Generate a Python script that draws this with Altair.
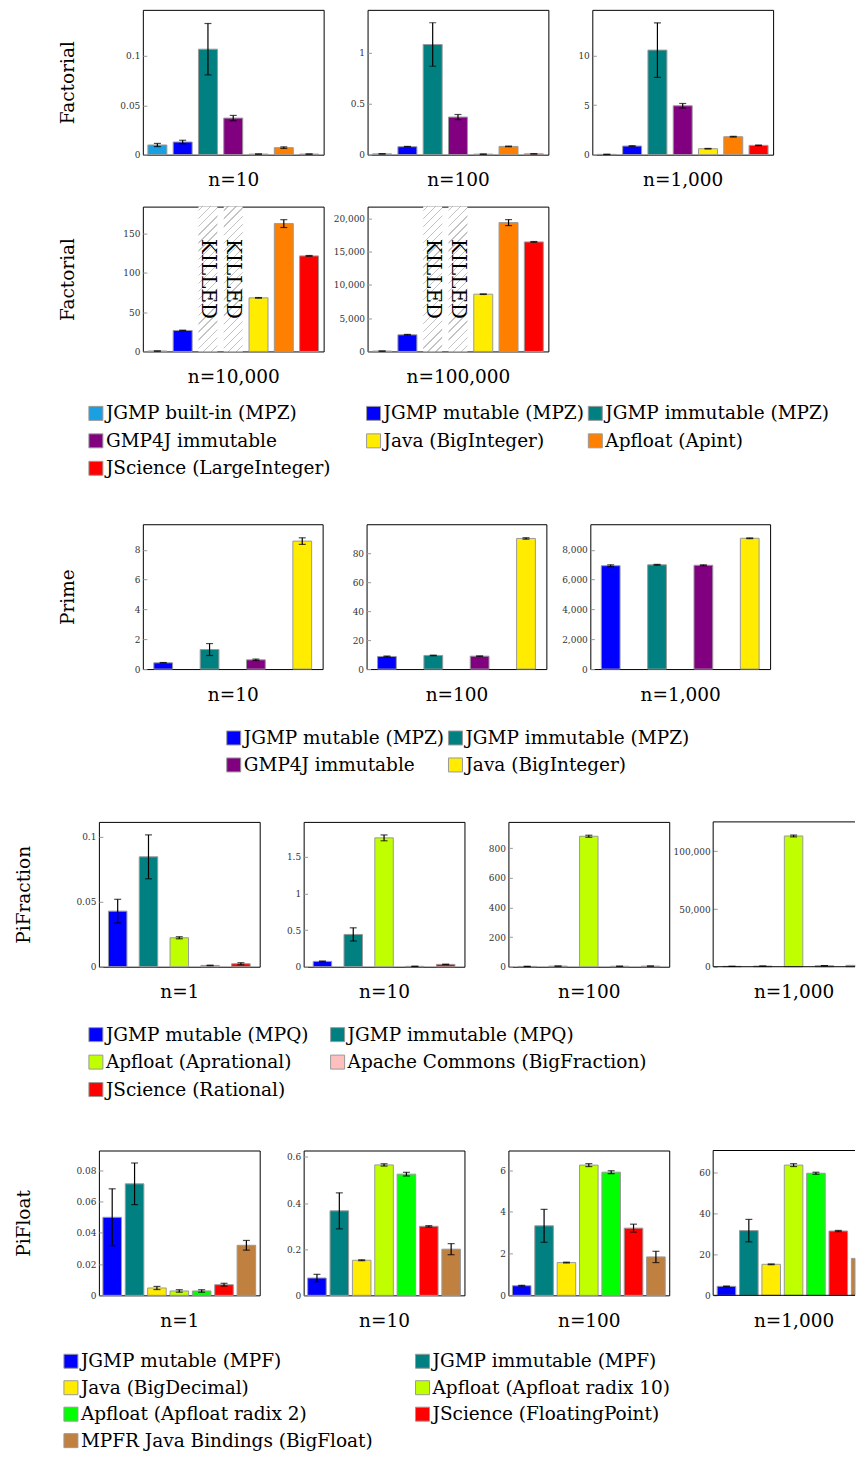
import altair as alt
import pandas as pd

FONT = "DejaVu Serif"

# ---------------- Factorial ----------------
fact_impls = ["JGMP built-in (MPZ)", "JGMP mutable (MPZ)", "JGMP immutable (MPZ)",
              "GMP4J immutable", "Java (BigInteger)", "Apfloat (Apint)",
              "JScience (LargeInteger)"]
fact_colors = ["#1a9fe0", "#0000ff", "#008080", "#800080", "#ffec00", "#ff8000", "#ff0000"]
fact_sizes = ["n=10", "n=100", "n=1,000", "n=10,000", "n=100,000"]

fact_n10 = [0.0098, 0.0128, 0.1067, 0.0370, 0.0006, 0.0071, 0.0006]
fact_n10_err = [0.0016, 0.0018, 0.0260, 0.0027, 0.0002, 0.0008, 0.0002]
fact_n10_top = 0.1465
fact_n10_ticks = [0, 0.05, 0.1]

fact_n100 = [0.008, 0.078, 1.078, 0.368, 0.005, 0.081, 0.008]
fact_n100_err = [0.002, 0.003, 0.213, 0.025, 0.001, 0.003, 0.001]
fact_n100_top = 1.417
fact_n100_ticks = [0, 0.5, 1]

fact_n1000 = [0.03, 0.87, 10.54, 4.93, 0.60, 1.81, 0.94]
fact_n1000_err = [0.01, 0.03, 2.75, 0.23, 0.03, 0.04, 0.03]
fact_n1000_top = 14.6
fact_n1000_ticks = [0, 5, 10]

fact_n10000 = [0.5, 26.7, None, None, 68.2, 162.7, 121.6]
fact_n10000_err = [0.1, 0.4, None, None, 0.4, 5.0, 0.5]
fact_n10000_top = 184.3
fact_n10000_ticks = [0, 50, 100, 150]

fact_n100000 = [50, 2500, None, None, 8600, 19350, 16450]
fact_n100000_err = [10, 60, None, None, 40, 450, 60]
fact_n100000_top = 21750
fact_n100000_ticks = [0, 5000, 10000, 15000, 20000]

killed_text = "KILLED"

# ---------------- Prime ----------------
prime_impls = ["JGMP mutable (MPZ)", "JGMP immutable (MPZ)", "GMP4J immutable", "Java (BigInteger)"]
prime_colors = ["#0000ff", "#008080", "#800080", "#ffec00"]
prime_sizes = ["n=10", "n=100", "n=1,000"]

prime_n10 = [0.42, 1.31, 0.62, 8.58]
prime_n10_err = [0.02, 0.40, 0.05, 0.22]
prime_n10_top = 9.71
prime_n10_ticks = [0, 2, 4, 6, 8]

prime_n100 = [8.7, 9.4, 8.9, 90.1]
prime_n100_err = [0.3, 0.2, 0.2, 0.5]
prime_n100_top = 99.9
prime_n100_ticks = [0, 20, 40, 60, 80]

prime_n1000 = [6930, 6990, 6960, 8770]
prime_n1000_err = [60, 30, 30, 25]
prime_n1000_top = 9711
prime_n1000_ticks = [0, 2000, 4000, 6000, 8000]

# ---------------- PiFraction ----------------
frac_impls = ["JGMP mutable (MPQ)", "JGMP immutable (MPQ)", "Apfloat (Aprational)",
              "Apache Commons (BigFraction)", "JScience (Rational)"]
frac_colors = ["#0000ff", "#008080", "#bfff00", "#ffbfbf", "#ff0000"]
frac_sizes = ["n=1", "n=10", "n=100", "n=1,000"]

frac_n1 = [0.0428, 0.0846, 0.0223, 0.0010, 0.0023]
frac_n1_err = [0.0091, 0.0169, 0.0008, 0.0002, 0.0008]
frac_n1_top = 0.1115
frac_n1_ticks = [0, 0.05, 0.1]

frac_n10 = [0.073, 0.441, 1.759, 0.005, 0.032]
frac_n10_err = [0.005, 0.090, 0.040, 0.001, 0.003]
frac_n10_top = 1.977
frac_n10_ticks = [0, 0.5, 1, 1.5]

frac_n100 = [2, 4, 881, 3, 4]
frac_n100_err = [0.2, 0.3, 7, 0.2, 0.3]
frac_n100_top = 978
frac_n100_ticks = [0, 200, 400, 600, 800]

frac_n1000 = [300, 500, 113300, 900, 1200]
frac_n1000_err = [20, 30, 800, 40, 50]
frac_n1000_top = 125500
frac_n1000_ticks = [0, 50000, 100000]

# ---------------- PiFloat ----------------
float_impls = ["JGMP mutable (MPF)", "JGMP immutable (MPF)", "Java (BigDecimal)",
               "Apfloat (Apfloat radix 10)", "Apfloat (Apfloat radix 2)",
               "JScience (FloatingPoint)", "MPFR Java Bindings (BigFloat)"]
float_colors = ["#0000ff", "#008080", "#ffec00", "#bfff00", "#00ff00", "#ff0000", "#bf8040"]
float_sizes = ["n=1", "n=10", "n=100", "n=1,000"]

float_n1 = [0.0499, 0.0713, 0.0047, 0.0028, 0.0028, 0.0068, 0.0320]
float_n1_err = [0.0182, 0.0133, 0.0010, 0.0008, 0.0008, 0.0009, 0.0031]
float_n1_top = 0.0926
float_n1_ticks = [0, 0.02, 0.04, 0.06, 0.08]

float_n10 = [0.075, 0.366, 0.152, 0.565, 0.525, 0.299, 0.200]
float_n10_err = [0.016, 0.078, 0.002, 0.005, 0.008, 0.003, 0.024]
float_n10_top = 0.6275
float_n10_ticks = [0, 0.2, 0.4, 0.6]

float_n100 = [0.46, 3.33, 1.57, 6.24, 5.90, 3.22, 1.84]
float_n100_err = [0.02, 0.79, 0.02, 0.07, 0.07, 0.19, 0.27]
float_n100_top = 6.94
float_n100_ticks = [0, 2, 4, 6]

float_n1000 = [4.41, 31.7, 15.2, 63.8, 59.8, 31.5, 18.1]
float_n1000_err = [0.15, 5.5, 0.2, 0.7, 0.5, 0.3, 2.8]
float_n1000_top = 70.95
float_n1000_ticks = [0, 20, 40, 60]

# ---------------- layout / style constants ----------------
PANEL_H = 145
BAR_STROKE = "#9a9a9a"
TITLE_FS = 18.5
COL_GAP = 44
SP_A = 88      # spacer before Factorial / Prime panels
SP_B = 44      # spacer before PiFraction / PiFloat panels
LEG_TOP = 14
SQ = 14
CAP = 7


def hatch_gradient(bw, h):
    r = bw / h
    f = 1.2
    S = h * f * (r * r + 1)
    period = 8.1 / S
    lw = 1.3 / S
    stops = [alt.GradientStop(offset=0, color="white")]
    k = 0
    while True:
        t0 = period * (k + 0.5) - lw / 2
        t1 = t0 + lw
        if t1 >= 0.999:
            break
        stops += [alt.GradientStop(offset=t0, color="white"),
                  alt.GradientStop(offset=t0, color="#c4c4c4"),
                  alt.GradientStop(offset=t1, color="#c4c4c4"),
                  alt.GradientStop(offset=t1, color="white")]
        k += 1
    stops.append(alt.GradientStop(offset=1, color="white"))
    return alt.LinearGradient(gradient="linear", stops=stops, x1=0, y1=0, x2=f * r, y2=f)


def x_title_axis(title, width):
    return alt.Axis(labels=False, ticks=False, domain=False, grid=False, title=title,
                    titleFontSize=TITLE_FS, titlePadding=16, titleFontWeight="normal",
                    titleColor="black", titleFont=FONT, titleX=width / 2)


def y_axis(ticks, row_title):
    ykw = dict(values=ticks, format=",.6~g", grid=False, domain=False, ticks=True,
               tickSize=4, tickColor="#9a9a9a", tickWidth=1, offset=-4, labelPadding=3,
               labelFontSize=9, labelColor="#333333", labelFont=FONT)
    if row_title:
        ykw.update(title=row_title, titleAngle=270, titleBaseline="bottom",
                   titleFontSize=TITLE_FS, titleFontWeight="normal", titleColor="black",
                   titlePadding=39, minExtent=30, maxExtent=30, titleFont=FONT)
    else:
        ykw.update(title=None)
    return alt.Axis(**ykw)


def make_panel(impls, colors, means, errs, top, ticks, title, width, pin, pout, row_title=None):
    recs, killed = [], []
    for imp, m, e in zip(impls, means, errs):
        if m is None:
            killed.append({"impl": imp, "label": killed_text})
        else:
            recs.append({"impl": imp, "mean": m, "lo": max(m - e, 0), "hi": m + e})
    df = pd.DataFrame(recs)

    xscale = alt.Scale(domain=impls, paddingInner=pin, paddingOuter=pout)
    x = alt.X("impl:N", scale=xscale, axis=x_title_axis(title, width), sort=impls)
    yscale = alt.Scale(domain=[0, top], nice=False, zero=True)
    yax = y_axis(ticks, row_title)

    layers = []
    if killed:
        n = len(impls)
        step = width / (n - pin + 2 * pout)
        bw = step * (1 - pin)
        hatch = alt.Chart(pd.DataFrame(killed)).mark_bar(fill=hatch_gradient(bw, PANEL_H)).encode(
            x=x, y=alt.value(0), y2=alt.value(PANEL_H))
        layers.append(hatch)

    base = alt.Chart(df)
    bars = base.mark_bar(stroke=BAR_STROKE, strokeWidth=1).encode(
        x=x,
        y=alt.Y("mean:Q", scale=yscale, axis=yax),
        color=alt.Color("impl:N", scale=alt.Scale(domain=impls, range=colors), legend=None),
    )
    rule = base.mark_rule(color="black", strokeWidth=1.2).encode(
        x=x, y=alt.Y("lo:Q", scale=yscale, axis=yax), y2="hi:Q")
    cap_lo = base.mark_tick(color="black", thickness=1.2, size=CAP).encode(
        x=x, y=alt.Y("lo:Q", scale=yscale, axis=yax))
    cap_hi = base.mark_tick(color="black", thickness=1.2, size=CAP).encode(
        x=x, y=alt.Y("hi:Q", scale=yscale, axis=yax))
    layers += [bars, rule, cap_lo, cap_hi]

    if killed:
        ktext = alt.Chart(pd.DataFrame(killed)).mark_text(
            angle=90, fontSize=20, font=FONT, color="black", align="center", baseline="middle"
        ).encode(x=x, y=alt.value(PANEL_H / 2), text="label:N")
        layers.append(ktext)

    return alt.layer(*layers).properties(width=width, height=PANEL_H)


def make_cut_panel(impls, colors, means, errs, top, ticks, title, width, pin, pout, vw):
    """Right-most panel: the original figure is cut by the page edge.
    The band layout is expressed in step units and the x scale is clamped
    at the visible width so that nothing is drawn past the edge."""
    n = len(impls)
    total = n - pin + 2 * pout
    vis = total * vw / width
    cap_half = (CAP / 2) / (width / total)
    recs = []
    for i, (imp, m, e) in enumerate(zip(impls, means, errs)):
        s0 = pout + i
        s1 = s0 + 1 - pin
        recs.append({"impl": imp, "mean": m, "lo": max(m - e, 0), "hi": m + e,
                     "s0": s0, "s1": s1, "sc": (s0 + s1) / 2})
    df = pd.DataFrame(recs)

    xs = alt.Scale(domain=[0, vis], range=[0, vw], clamp=True, nice=False, zero=False)
    xax = x_title_axis(title, width)
    yscale = alt.Scale(domain=[0, top], nice=False, zero=True)
    yax = y_axis(ticks, None)

    base = alt.Chart(df)
    bars = base.transform_filter(alt.datum.s0 < vis).mark_rect(stroke=BAR_STROKE, strokeWidth=1).encode(
        x=alt.X("s0:Q", scale=xs, axis=xax), x2="s1:Q",
        y=alt.Y("mean:Q", scale=yscale, axis=yax), y2=alt.datum(0),
        color=alt.Color("impl:N", scale=alt.Scale(domain=impls, range=colors), legend=None),
    )
    eb = base.transform_filter(alt.datum.sc + cap_half <= vis)
    rule = eb.mark_rule(color="black", strokeWidth=1.2).encode(
        x=alt.X("sc:Q", scale=xs, axis=xax), y=alt.Y("lo:Q", scale=yscale, axis=yax), y2="hi:Q")
    cap_lo = eb.mark_tick(color="black", thickness=1.2, size=CAP, orient="horizontal").encode(
        x=alt.X("sc:Q", scale=xs, axis=xax), y=alt.Y("lo:Q", scale=yscale, axis=yax))
    cap_hi = eb.mark_tick(color="black", thickness=1.2, size=CAP, orient="horizontal").encode(
        x=alt.X("sc:Q", scale=xs, axis=xax), y=alt.Y("hi:Q", scale=yscale, axis=yax))

    fr = alt.Chart(pd.DataFrame({"f": [0]}))
    frame = [
        fr.mark_rule(color="black", strokeWidth=1).encode(
            x=alt.value(0), x2=alt.value(vw), y=alt.value(0)),
        fr.mark_rule(color="black", strokeWidth=1).encode(
            x=alt.value(0), x2=alt.value(vw), y=alt.value(PANEL_H)),
        fr.mark_rule(color="black", strokeWidth=1).encode(
            x=alt.value(0), y=alt.value(0), y2=alt.value(PANEL_H)),
    ]
    return alt.layer(bars, rule, cap_lo, cap_hi, *frame).properties(
        width=vw, height=PANEL_H, view=alt.ViewBackground(stroke="transparent"))


def make_legend(labels, colors, ncols, centers, step, width, height):
    recs = [{"label": l, "col": i % ncols, "row": i // ncols} for i, l in enumerate(labels)]
    df = pd.DataFrame(recs)
    x = alt.X("col:Q", scale=alt.Scale(domain=list(range(ncols)), range=centers,
                                       nice=False, zero=False), axis=None)
    y = alt.Y("row:Q", scale=alt.Scale(domain=[0, 1], range=[LEG_TOP, LEG_TOP + step],
                                       nice=False, zero=False), axis=None)
    sq = alt.Chart(df).mark_square(size=SQ * SQ, opacity=1, stroke=BAR_STROKE, strokeWidth=1).encode(
        x=x, y=y,
        color=alt.Color("label:N", scale=alt.Scale(domain=labels, range=colors), legend=None))
    tx = alt.Chart(df).mark_text(align="left", baseline="middle", dx=10, fontSize=TITLE_FS,
                                 font=FONT, color="black").encode(x=x, y=y, text="label:N")
    return alt.layer(sq, tx).properties(width=width, height=height,
                                        view=alt.ViewBackground(stroke="transparent"))


def blank(w, h):
    return alt.Chart(pd.DataFrame({"v": [0]})).mark_point(opacity=0, size=1, strokeWidth=0).encode(
        x=alt.value(w / 2), y=alt.value(h / 2)
    ).properties(width=w, height=h, view=alt.ViewBackground(stroke="transparent"))


def row(*charts):
    return alt.hconcat(*charts, spacing=COL_GAP, bounds="flush")


FW, FPI, FPO = 181, 0.25, 0.2
PW, PPI, PPO = 180, 0.595, 0.237
RW, RPI, RPO = 161, 0.4, 0.31
LW, LPI, LPO = 161, 0.17, 0.18
CUT_W = 142

f10 = make_panel(fact_impls, fact_colors, fact_n10, fact_n10_err, fact_n10_top, fact_n10_ticks,
                 fact_sizes[0], FW, FPI, FPO, row_title="Factorial")
f100 = make_panel(fact_impls, fact_colors, fact_n100, fact_n100_err, fact_n100_top, fact_n100_ticks,
                  fact_sizes[1], FW, FPI, FPO)
f1000 = make_panel(fact_impls, fact_colors, fact_n1000, fact_n1000_err, fact_n1000_top, fact_n1000_ticks,
                   fact_sizes[2], FW, FPI, FPO)
f10000 = make_panel(fact_impls, fact_colors, fact_n10000, fact_n10000_err, fact_n10000_top,
                    fact_n10000_ticks, fact_sizes[3], FW, FPI, FPO, row_title="Factorial")
f100000 = make_panel(fact_impls, fact_colors, fact_n100000, fact_n100000_err, fact_n100000_top,
                     fact_n100000_ticks, fact_sizes[4], FW, FPI, FPO)

p10 = make_panel(prime_impls, prime_colors, prime_n10, prime_n10_err, prime_n10_top, prime_n10_ticks,
                 prime_sizes[0], PW, PPI, PPO, row_title="Prime")
p100 = make_panel(prime_impls, prime_colors, prime_n100, prime_n100_err, prime_n100_top, prime_n100_ticks,
                  prime_sizes[1], PW, PPI, PPO)
p1000 = make_panel(prime_impls, prime_colors, prime_n1000, prime_n1000_err, prime_n1000_top,
                   prime_n1000_ticks, prime_sizes[2], PW, PPI, PPO)

r1 = make_panel(frac_impls, frac_colors, frac_n1, frac_n1_err, frac_n1_top, frac_n1_ticks,
                frac_sizes[0], RW, RPI, RPO, row_title="PiFraction")
r10 = make_panel(frac_impls, frac_colors, frac_n10, frac_n10_err, frac_n10_top, frac_n10_ticks,
                 frac_sizes[1], RW, RPI, RPO)
r100 = make_panel(frac_impls, frac_colors, frac_n100, frac_n100_err, frac_n100_top, frac_n100_ticks,
                  frac_sizes[2], RW, RPI, RPO)
r1000 = make_cut_panel(frac_impls, frac_colors, frac_n1000, frac_n1000_err, frac_n1000_top,
                       frac_n1000_ticks, frac_sizes[3], RW, RPI, RPO, CUT_W)

l1 = make_panel(float_impls, float_colors, float_n1, float_n1_err, float_n1_top, float_n1_ticks,
                float_sizes[0], LW, LPI, LPO, row_title="PiFloat")
l10 = make_panel(float_impls, float_colors, float_n10, float_n10_err, float_n10_top, float_n10_ticks,
                 float_sizes[1], LW, LPI, LPO)
l100 = make_panel(float_impls, float_colors, float_n100, float_n100_err, float_n100_top, float_n100_ticks,
                  float_sizes[2], LW, LPI, LPO)
l1000 = make_cut_panel(float_impls, float_colors, float_n1000, float_n1000_err, float_n1000_top,
                       float_n1000_ticks, float_sizes[3], LW, LPI, LPO, CUT_W)

leg_fact = make_legend(fact_impls, fact_colors, 3, [85, 363, 585], 27.5, 600, 123)
leg_prime = make_legend(prime_impls, prime_colors, 2, [223, 445], 27.0, 600, 96)
leg_frac = make_legend(frac_impls, frac_colors, 2, [85, 327], 27.5, 600, 128)
leg_float = make_legend(float_impls, float_colors, 2, [60, 412], 26.5, 600, 94)

chart = alt.vconcat(
    row(blank(SP_A, 195), f10, f100, f1000),
    row(blank(SP_A, 191), f10000, f100000),
    leg_fact,
    row(blank(SP_A, 198), p10, p100, p1000),
    leg_prime,
    row(blank(SP_B, 197), r1, r10, r100, r1000),
    leg_frac,
    row(blank(SP_B, 195), l1, l10, l100, l1000),
    leg_float,
    spacing=0,
).resolve_scale(
    color="independent"
).properties(
    padding={"left": 2, "top": 0, "right": 0, "bottom": 0}
).configure(
    font=FONT
).configure_view(
    stroke="black", strokeWidth=1
)

chart.save("out.html", embed_options={"renderer": "svg", "actions": False})
